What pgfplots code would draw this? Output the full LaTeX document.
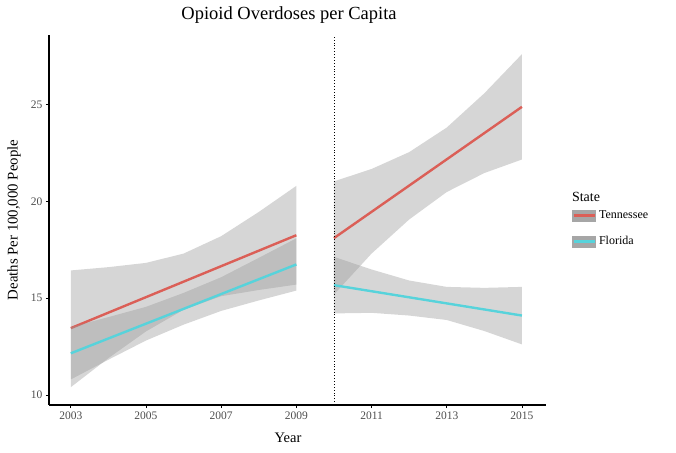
\documentclass[border=0pt]{standalone}
\usepackage{fontspec}
\setmainfont{Liberation Serif}
\usepackage{pgfplots}
\pgfplotsset{compat=1.18}

\definecolor{tn}{HTML}{DB5F57}
\definecolor{fl}{HTML}{57D3DB}
\definecolor{band}{HTML}{999999}
\definecolor{keybg}{HTML}{A6A6A6}
\definecolor{ticktxt}{HTML}{4D4D4D}

\begin{document}
\begin{tikzpicture}
\useasboundingbox (0,0) rectangle (676bp,453bp);
\begin{axis}[
  at={(49bp,48bp)}, anchor=south west,
  scale only axis, width=497bp, height=370bp,
  xmin=2002.42, xmax=2015.64, ymin=9.48, ymax=28.59,
  clip=false,
  axis lines=left,
  axis line style={-, line width=1.2bp, black},
  xtick={2003,2005,...,2015}, ytick={10,15,20,25},
  tick align=outside, major tick length=3bp,
  tick style={black, line width=0.8bp},
  tick label style={font=\fontsize{11.5bp}{13bp}\selectfont, text=ticktxt,
    /pgf/number format/assume math mode=true},
  xticklabel style={/pgf/number format/1000 sep={}},
  title={Opioid Overdoses per Capita},
  title style={at={(axis description cs:0.483,1.027)}, anchor=base,
    font=\fontsize{18.5bp}{22bp}\selectfont},
  xlabel={Year},
  xlabel style={at={(axis description cs:0.481,-0.1)}, anchor=base,
    font=\fontsize{14.5bp}{17bp}\selectfont},
  ylabel={Deaths Per 100,000 People},
  ylabel style={at={(axis description cs:-0.0704,0.5)}, anchor=center,
    font=\fontsize{14.8bp}{17bp}\selectfont},
  no markers,
  legend cell align=left,
  legend style={at={(axis description cs:1.052,0.528)}, anchor=north west,
    draw=none, fill=none, inner sep=0pt, row sep=14bp, column sep=3bp,
    font=\fontsize{12bp}{14bp}\selectfont,
    nodes={inner sep=0pt, text height=9bp, text depth=3bp}},
  legend image code/.code={
    \fill[keybg] (0bp,-4.5bp) rectangle (21bp,4.5bp);
    \draw[line width=3bp] (0bp,0bp) -- (21bp,0bp);
  },
]
% Tennessee confidence bands (upper edge, then lower edge backwards)
\addplot[draw=none, fill=band, fill opacity=0.4, forget plot] coordinates {
  (2003,16.43) (2004,16.60) (2005,16.82) (2006,17.30) (2007,18.20) (2008,19.45) (2009,20.80)
  (2009,15.70) (2008,15.42) (2007,15.10) (2006,14.40) (2005,13.28) (2004,11.90) (2003,10.40)};
\addplot[draw=none, fill=band, fill opacity=0.4, forget plot] coordinates {
  (2010,21.03) (2011,21.67) (2012,22.54) (2013,23.81) (2014,25.58) (2015,27.60)
  (2015,22.16) (2014,21.46) (2013,20.48) (2012,19.06) (2011,17.30) (2010,15.19)};
% Tennessee fits
\addplot[tn, line width=2.4bp] coordinates {(2003,13.45) (2009,18.25)};
\addlegendentry{Tennessee}
\addplot[tn, line width=2.4bp, forget plot] coordinates {(2010,18.10) (2015,24.88)};
% Florida confidence bands
\addplot[draw=none, fill=band, fill opacity=0.4, forget plot] coordinates {
  (2003,13.50) (2004,14.02) (2005,14.55) (2006,15.27) (2007,16.08) (2008,17.08) (2009,18.09)
  (2009,15.39) (2008,14.88) (2007,14.34) (2006,13.63) (2005,12.81) (2004,11.82) (2003,10.80)};
\addplot[draw=none, fill=band, fill opacity=0.4, forget plot] coordinates {
  (2010,17.13) (2011,16.48) (2012,15.91) (2013,15.58) (2014,15.53) (2015,15.58)
  (2015,12.61) (2014,13.30) (2013,13.87) (2012,14.10) (2011,14.24) (2010,14.21)};
% Florida fits
\addplot[fl, line width=2.4bp] coordinates {(2003,12.15) (2009,16.74)};
\addlegendentry{Florida}
\addplot[fl, line width=2.4bp, forget plot] coordinates {(2010,15.67) (2015,14.10)};
% break between the two periods
\addplot[black, line width=0.9bp, dotted, forget plot] coordinates {(2010,9.48) (2010,28.59)};
\node[anchor=base west, font=\fontsize{14bp}{16bp}\selectfont, inner sep=0pt]
  at (axis description cs:1.052,0.55) {State};
\end{axis}
\end{tikzpicture}
\end{document}
